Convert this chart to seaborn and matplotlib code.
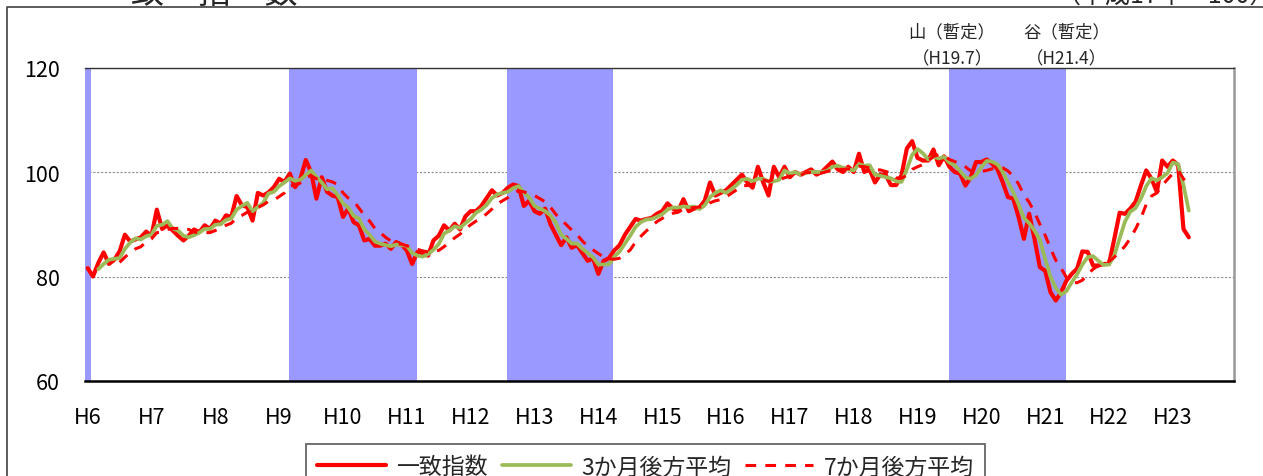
import matplotlib
matplotlib.use("Agg")
import matplotlib.pyplot as plt
import matplotlib.transforms as mtransforms
import pandas as pd
import seaborn as sns
from matplotlib.lines import Line2D

# 一致指数（平成17年=100）, monthly from H6.1 to H23.4
coincident = [
    81.6, 80.0, 82.6, 84.6, 82.4, 83.2, 84.8, 88.0, 86.7, 87.1, 87.5, 88.6,
    87.8, 92.8, 89.1, 89.8, 88.8, 87.8, 86.9, 87.8, 89.0, 88.5, 89.8, 89.1,
    90.7, 90.1, 91.7, 91.4, 95.4, 93.6, 93.3, 90.7, 96.0, 95.5, 96.1, 97.1,
    98.7, 98.1, 99.7, 97.1, 98.7, 102.3, 100.0, 94.9, 99.0, 96.2, 95.5, 95.2,
    91.4, 93.0, 90.4, 89.8, 86.9, 87.2, 85.9, 85.9, 86.3, 85.3, 86.6, 86.1,
    85.0, 82.4, 84.7, 84.3, 84.0, 86.9, 87.8, 89.8, 88.8, 90.1, 89.0, 91.5,
    92.5, 92.5, 93.5, 95.0, 96.5, 95.5, 96.0, 97.0, 97.6, 97.3, 93.5, 94.5,
    92.5, 92.0, 93.0, 90.0, 88.0, 86.0, 87.5, 85.5, 86.0, 84.5, 83.0, 83.5,
    80.5, 83.0, 83.5, 85.0, 86.0, 88.0, 89.5, 91.0, 90.7, 91.0, 91.2, 92.0,
    92.5, 94.0, 93.0, 92.5, 94.8, 92.5, 93.0, 93.2, 94.5, 98.0, 95.5, 96.0,
    96.5, 97.5, 98.5, 99.5, 98.0, 97.0, 101.0, 98.0, 95.5, 101.0, 99.0, 101.0,
    99.0, 100.0, 99.5, 100.0, 100.5, 99.5, 100.0, 101.0, 102.0, 100.5, 100.0, 101.0,
    100.0, 103.5, 100.0, 100.5, 98.0, 99.5, 99.5, 97.5, 97.5, 99.4, 104.5, 105.9,
    102.7, 102.2, 102.2, 104.3, 101.3, 103.0, 101.0, 100.0, 99.7, 97.4, 99.0, 101.9,
    101.9, 102.4, 101.6, 100.6, 98.1, 95.2, 94.9, 91.4, 87.2, 92.0, 87.2, 81.8,
    81.1, 77.0, 75.4, 77.0, 79.2, 80.5, 81.5, 84.8, 84.7, 82.1, 82.1, 82.4,
    82.4, 87.2, 92.2, 92.0, 93.0, 94.3, 97.4, 100.3, 98.7, 96.2, 102.2, 101.0,
    102.2, 101.3, 89.1, 87.5,
]

# 3か月後方平均, from H6.3
avg3 = [
    81.4, 82.4, 83.2, 83.4, 83.5, 85.3, 86.5, 87.3, 87.1, 87.7,
    88.0, 89.7, 89.9, 90.6, 89.2, 88.8, 87.8, 87.5, 87.9, 88.4, 89.1, 89.1,
    89.9, 90.0, 90.8, 91.1, 92.8, 93.5, 94.1, 92.5, 93.3, 94.1, 95.9, 96.2,
    97.3, 98.0, 98.8, 98.3, 98.5, 99.4, 100.3, 99.1, 98.0, 96.7, 96.9, 95.6,
    94.0, 93.2, 91.6, 91.1, 89.0, 88.0, 86.7, 86.3, 86.0, 85.8, 86.1, 86.0,
    85.9, 84.5, 84.0, 83.8, 84.3, 85.1, 86.2, 88.2, 88.8, 89.6, 89.3, 90.2,
    91.0, 92.2, 92.8, 93.7, 95.0, 95.7, 96.0, 96.2, 96.9, 97.3, 96.1, 95.1,
    93.5, 93.0, 92.5, 91.7, 90.3, 88.0, 87.2, 86.3, 86.3, 85.3, 84.5, 83.7,
    82.3, 82.3, 82.3, 83.8, 84.8, 86.3, 87.8, 89.5, 90.4, 90.9, 91.0, 91.4,
    91.9, 92.8, 93.2, 93.2, 93.4, 93.3, 93.4, 92.9, 93.6, 95.2, 96.0, 96.5,
    96.0, 96.7, 97.5, 98.5, 98.7, 98.2, 98.7, 98.7, 98.2, 98.2, 98.5, 100.3,
    99.7, 100.0, 99.5, 99.8, 100.0, 100.0, 100.0, 100.2, 101.0, 101.2, 100.8, 100.5,
    100.3, 101.5, 101.2, 101.3, 99.5, 99.3, 99.0, 98.8, 98.2, 98.1, 100.5, 103.3,
    104.4, 103.6, 102.4, 102.9, 102.6, 102.9, 101.8, 101.3, 100.2, 99.0, 98.7, 99.4,
    100.9, 102.1, 102.0, 101.5, 100.1, 98.0, 96.1, 93.8, 91.2, 90.2, 88.8, 87.0,
    83.4, 80.0, 77.8, 76.5, 77.2, 78.9, 80.4, 82.3, 83.7, 83.9, 83.0, 82.2,
    82.3, 84.0, 87.3, 90.5, 92.4, 93.1, 94.9, 97.3, 98.8, 98.4, 99.0, 99.8,
    101.8, 101.5, 97.5, 92.6,
]

# 7か月後方平均, from H6.7
avg7 = [
    82.7, 83.7, 84.6, 85.3, 85.7, 86.6,
    87.2, 88.4, 88.5, 89.0, 89.2, 89.2, 89.0, 89.0, 88.5, 88.4, 88.4, 88.4,
    88.8, 89.3, 89.8, 90.2, 91.2, 91.7, 92.3, 92.3, 93.2, 93.7, 94.4, 94.6,
    95.3, 96.0, 97.3, 97.5, 97.9, 98.9, 99.3, 98.7, 98.9, 98.4, 98.1, 97.6,
    96.0, 95.0, 94.4, 93.1, 91.7, 90.6, 89.2, 88.4, 87.5, 86.8, 86.3, 86.2,
    85.9, 85.4, 85.2, 84.9, 84.7, 84.8, 85.0, 85.7, 86.6, 87.4, 88.1, 89.1,
    89.9, 90.6, 91.1, 92.0, 92.9, 93.9, 94.5, 95.1, 95.9, 96.4, 96.2, 95.9,
    95.5, 94.9, 94.3, 93.3, 91.9, 90.9, 89.9, 88.9, 88.0, 86.8, 85.8, 85.1,
    84.4, 83.7, 83.4, 83.3, 83.5, 84.2, 85.1, 86.6, 87.7, 88.7, 89.6, 90.5,
    91.1, 91.8, 92.1, 92.3, 92.9, 93.0, 93.2, 93.3, 93.4, 94.1, 94.5, 94.7,
    95.2, 95.9, 96.6, 97.4, 97.4, 97.6, 98.3, 98.5, 98.2, 98.6, 98.5, 98.9,
    99.2, 99.1, 99.3, 99.9, 99.9, 99.9, 99.8, 100.1, 100.4, 100.5, 100.5, 100.6,
    100.6, 101.1, 101.0, 100.8, 100.4, 100.4, 100.1, 99.8, 98.9, 98.8, 99.4, 100.5,
    101.0, 101.4, 102.1, 103.0, 103.3, 103.1, 102.4, 102.0, 101.6, 101.0, 100.2, 100.3,
    100.1, 100.3, 100.6, 100.7, 100.8, 100.2, 99.2, 97.7, 95.6, 94.2, 92.3, 90.0,
    87.9, 85.4, 83.1, 81.6, 79.8, 78.9, 78.8, 79.3, 80.4, 81.4, 82.1, 82.6,
    82.9, 83.7, 84.7, 85.8, 87.3, 89.1, 91.2, 93.8, 95.4, 96.0, 97.4, 98.6,
    99.7, 100.3, 98.7, 97.1,
]

year_labels = [f"H{y}" for y in range(6, 24)]

# shaded recession phases, in months from H6.1
recession_start = [-0.5, 37.8, 78.8, 162.0]
recession_end = [0.6, 61.9, 98.8, 184.0]

sns.set_theme(style="white")
plt.rcParams["font.family"] = ["Noto Sans CJK JP", "DejaVu Sans"]

W, H = 1263, 477
fig = plt.figure(figsize=(W / 100, H / 100), dpi=100)
ax = fig.add_axes([85 / W, 1 - 382 / H, 1149 / W, 313.5 / H])

df1 = pd.DataFrame({"month": range(len(coincident)), "value": coincident})
df3 = pd.DataFrame({"month": range(2, 2 + len(avg3)), "value": avg3})
df7 = pd.DataFrame({"month": range(6, 6 + len(avg7)), "value": avg7})

red = "#FF0000"
green = "#9BBB59"
dash = (0, (3.5, 3))

for s, e in zip(recession_start, recession_end):
    ax.axvspan(s, e, color="#9999FF", lw=0, zorder=1)

sns.lineplot(data=df1, x="month", y="value", ax=ax, color=red, lw=3, zorder=3)
sns.lineplot(data=df3, x="month", y="value", ax=ax, color=green, lw=2.7, zorder=4)
sns.lineplot(data=df7, x="month", y="value", ax=ax, color=red, lw=2.2,
             linestyle=dash, zorder=5)

ax.set_xlim(-0.5, 215.5)
ax.set_ylim(60, 120)
ax.set_xticks(range(0, 12 * len(year_labels), 12))
ax.set_xticklabels(year_labels)
ax.set_yticks([60, 80, 100, 120])
ax.set_xlabel("")
ax.set_ylabel("")

ax.set_axisbelow(True)
ax.yaxis.grid(True, color="#8c8c8c", lw=0.8, ls=(0, (2, 1.5)))
ax.xaxis.grid(False)

ax.tick_params(axis="x", direction="in", length=5, width=0.8, color="#333333",
               pad=18, labelsize=15.5, labelcolor="black")
ax.tick_params(axis="y", length=0, pad=18, labelsize=15.5, labelcolor="black")

ax.spines["left"].set_visible(False)
ax.spines["top"].set_color("#333333")
ax.spines["top"].set_linewidth(1.0)
ax.spines["right"].set_color("#999999")
ax.spines["right"].set_linewidth(1.8)
ax.spines["bottom"].set_color("black")
ax.spines["bottom"].set_linewidth(1.8)

# peak / trough notes
trans = mtransforms.blended_transform_factory(ax.transData, fig.transFigure)
for m, top, bottom in [(162.5, "山（暫定）", "（H19.7）"), (184.0, "谷（暫定）", "（H21.4）")]:
    ax.text(m, 1 - 32 / H, top, transform=trans, ha="center", va="center", fontsize=12.5)
    ax.text(m, 1 - 59 / H, bottom, transform=trans, ha="center", va="center", fontsize=12.5)

# header (cropped at the top in the reference)
fig.text(181 / W, 1 - 3 / H, "一　致　指　数", ha="center", va="baseline", fontsize=24)
fig.text(1275 / W, 1 - 3 / H, "（平成17年＝100）", ha="right", va="baseline", fontsize=18)

# outer chart frame
fig.add_artist(Line2D([7 / W, 7 / W, 1], [0, 1 - 8 / H, 1 - 8 / H],
                      transform=fig.transFigure, color="#404040", lw=1.2))

handles = [
    Line2D([], [], color=red, lw=3),
    Line2D([], [], color=green, lw=2.7),
    Line2D([], [], color=red, lw=2.2, linestyle=dash),
]
leg = fig.legend(handles, ["一致指数", "3か月後方平均", "7か月後方平均"],
                 loc="upper left", bbox_to_anchor=(306 / W, 1 - 445 / H),
                 ncol=3, frameon=True, fancybox=False, edgecolor="#666666",
                 framealpha=1, fontsize=16.5, handlelength=3.0, handletextpad=0.45,
                 columnspacing=0.6, borderpad=0.5, borderaxespad=0)
leg.get_frame().set_linewidth(1.3)

fig.savefig("out.png", dpi=100)
